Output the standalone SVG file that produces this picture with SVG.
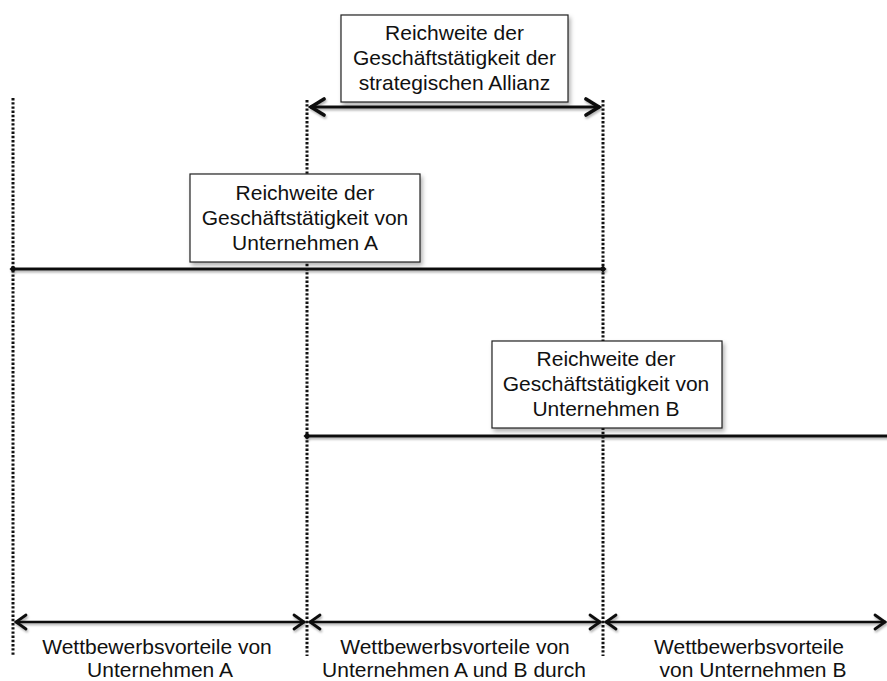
<svg xmlns="http://www.w3.org/2000/svg" width="887" height="681" viewBox="0 0 887 681">
  <style>
    .label { font-family: "Liberation Sans", Arial, sans-serif; font-size: 21px; fill: #111; text-anchor: middle; }
    .box { fill: #fff; stroke: #222; stroke-width: 1.2; filter: url(#shadow); }
    .guide { stroke: #111; stroke-width: 3; stroke-dasharray: 2.4 1.8; fill: none; }
    .span { stroke: #111; stroke-width: 3; fill: none; filter: url(#lineShadow); }
    .range { stroke: #111; stroke-width: 2.6; fill: none; filter: url(#lineShadow); }
  </style>
  <defs>
    <filter id="shadow" x="-10%" y="-10%" width="130%" height="140%">
      <feDropShadow dx="2" dy="3" stdDeviation="2" flood-color="#000" flood-opacity="0.3"/>
    </filter>
    <!-- user-space region so zero-height horizontal lines still render -->
    <filter id="lineShadow" filterUnits="userSpaceOnUse" x="0" y="0" width="887" height="681">
      <feDropShadow dx="1" dy="2" stdDeviation="1.2" flood-color="#000" flood-opacity="0.3"/>
    </filter>
    <marker id="chevronBig" markerUnits="userSpaceOnUse" viewBox="-16 -10 18 20" refX="0" refY="0" markerWidth="18" markerHeight="20" orient="auto-start-reverse">
      <path d="M -14 -8 L -1 0 L -14 8" fill="none" stroke="#111" stroke-width="3.6" stroke-linecap="round" stroke-linejoin="miter"/>
    </marker>
    <marker id="chevron" markerUnits="userSpaceOnUse" viewBox="-14 -9 16 18" refX="0" refY="0" markerWidth="16" markerHeight="18" orient="auto-start-reverse">
      <path d="M -11 -7 L -1 0 L -11 7" fill="none" stroke="#111" stroke-width="2.8" stroke-linecap="round" stroke-linejoin="miter"/>
    </marker>
    <marker id="dot" markerUnits="userSpaceOnUse" viewBox="-4 -4 8 8" refX="0" refY="0" markerWidth="8" markerHeight="8">
      <path d="M -3.5 0 L 0 -3.5 L 3.5 0 L 0 3.5 Z" fill="#111"/>
    </marker>
  </defs>

  <!-- dotted boundary guides -->
  <g id="guides">
    <line class="guide" x1="13" y1="98" x2="13" y2="656"/>
    <line class="guide" x1="307" y1="100" x2="307" y2="656"/>
    <line class="guide" x1="603" y1="100" x2="603" y2="656"/>
  </g>

  <!-- range lines and arrows -->
  <g id="connectors">
    <line class="span" x1="310" y1="107" x2="600" y2="107" stroke-width="3.4" marker-start="url(#chevronBig)" marker-end="url(#chevronBig)"/>
    <line class="span" x1="13" y1="269" x2="603" y2="269" marker-start="url(#dot)" marker-end="url(#dot)"/>
    <line class="span" x1="307" y1="436" x2="890" y2="436" marker-start="url(#dot)"/>
    <line class="range" x1="15" y1="622" x2="305" y2="622" marker-start="url(#chevron)" marker-end="url(#chevron)"/>
    <line class="range" x1="309" y1="622" x2="601" y2="622" marker-start="url(#chevron)" marker-end="url(#chevron)"/>
    <line class="range" x1="605" y1="622" x2="886" y2="622" marker-start="url(#chevron)" marker-end="url(#chevron)"/>
  </g>

  <g id="box-alliance">
    <rect class="box" x="341" y="15" width="227" height="87"/>
    <text class="label" x="454.5" y="40">Reichweite der</text>
    <text class="label" x="454.5" y="65">Geschäftstätigkeit der</text>
    <text class="label" x="454.5" y="90">strategischen Allianz</text>
  </g>

  <g id="box-company-a">
    <rect class="box" x="190" y="174" width="230" height="88"/>
    <text class="label" x="305" y="200">Reichweite der</text>
    <text class="label" x="305" y="225">Geschäftstätigkeit von</text>
    <text class="label" x="305" y="250">Unternehmen A</text>
  </g>

  <g id="box-company-b">
    <rect class="box" x="492" y="341" width="230" height="87"/>
    <text class="label" x="606" y="366">Reichweite der</text>
    <text class="label" x="606" y="391">Geschäftstätigkeit von</text>
    <text class="label" x="606" y="416">Unternehmen B</text>
  </g>

  <g id="advantage-a">
    <text class="label" x="157" y="654">Wettbewerbsvorteile von</text>
    <text class="label" x="160" y="677">Unternehmen A</text>
  </g>

  <g id="advantage-ab">
    <text class="label" x="455" y="654">Wettbewerbsvorteile von</text>
    <text class="label" x="454" y="677">Unternehmen A und B durch</text>
  </g>

  <g id="advantage-b">
    <text class="label" x="749" y="654">Wettbewerbsvorteile</text>
    <text class="label" x="753" y="677">von Unternehmen B</text>
  </g>
</svg>
